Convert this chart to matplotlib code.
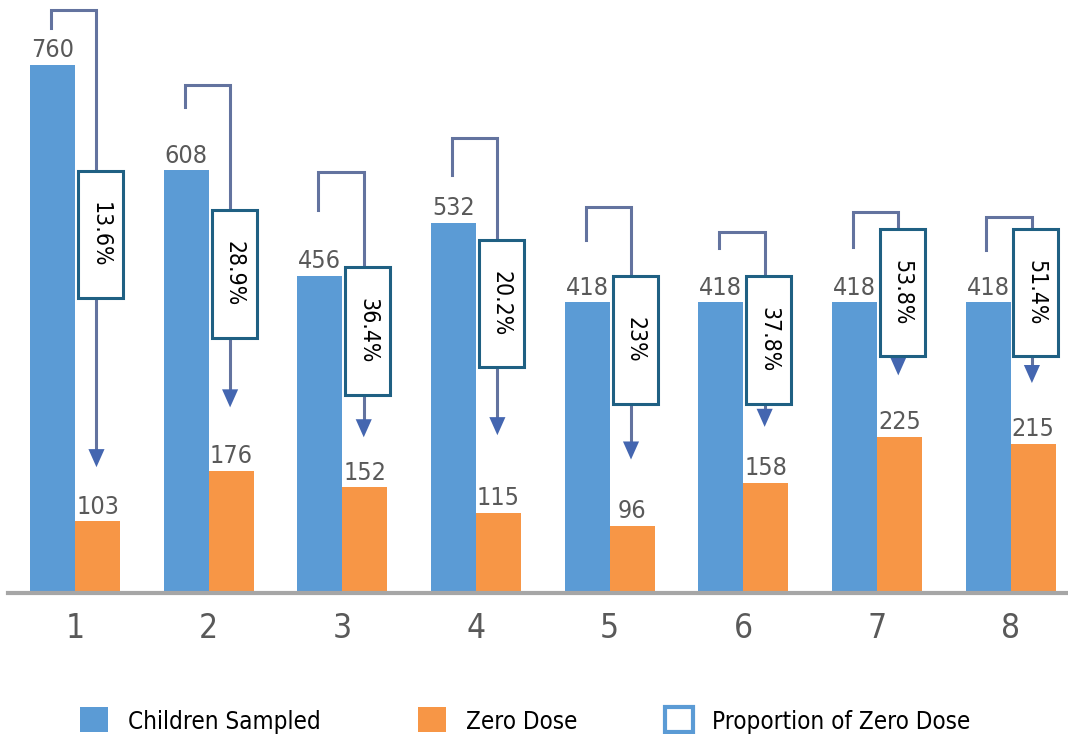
import numpy as np
import matplotlib.pyplot as plt
from matplotlib.patches import Rectangle

# Datos
grupos = [1, 2, 3, 4, 5, 6, 7, 8]
ninos_muestreados = [760, 608, 456, 532, 418, 418, 418, 418]
dosis_cero = [103, 176, 152, 115, 96, 158, 225, 215]
proporcion = ['13.6%', '28.9%', '36.4%', '20.2%', '23%', '37.8%', '53.8%', '51.4%']
series = ['Children Sampled', 'Zero Dose', 'Proportion of Zero Dose']

# Conectores (alturas en unidades del eje y)
conector_techo = [839, 731, 606, 655, 555, 519, 548, 541]
conector_pata = [813, 699, 551, 601, 508, 496, 498, 494]
conector_punta = [177, 263, 220, 223, 188, 235, 309, 298]
caja_centro = [516, 459, 377, 416, 364, 364, 432, 432]

AZUL = '#5b9bd5'
NARANJA = '#f79646'
GRIS = '#595959'

plt.rcParams['font.family'] = ['DejaVu Sans']
plt.rcParams['font.stretch'] = 'condensed'

fig = plt.figure(figsize=(10.68, 7.34), dpi=100)
ax = fig.add_axes([8 / 1068, (734 - 593) / 734, 1 - 8 / 1068, 593 / 734])

x = np.array(grupos, dtype=float)
ancho = 0.337

ax.bar(x - ancho / 2, ninos_muestreados, ancho, color=AZUL, zorder=2)
ax.bar(x + ancho / 2, dosis_cero, ancho, color=NARANJA, zorder=2)

for xi, v in zip(x, ninos_muestreados):
    ax.text(xi - ancho / 2, v + 4, str(v), ha='center', va='bottom', fontsize=18, color=GRIS)
for xi, v in zip(x, dosis_cero):
    ax.text(xi + ancho / 2, v + 4, str(v), ha='center', va='bottom', fontsize=18, color=GRIS)

# Conectores con flecha y caja de proporción
alto_caja = 183
for i, xi in enumerate(x):
    xl = xi - 0.18
    xr = xi + 0.16
    ax.plot([xl, xl, xr, xr], [conector_pata[i], conector_techo[i], conector_techo[i], conector_punta[i] + 20],
            color='#63739f', lw=2.2, zorder=3, solid_joinstyle='miter')
    ax.annotate('', xy=(xr, conector_punta[i]), xytext=(xr, conector_punta[i] + 26),
                arrowprops=dict(arrowstyle='-|>,head_width=0.29,head_length=0.65',
                                mutation_scale=20, color='#4466b0', lw=0), zorder=4)
    cx = xi + 0.19
    caja = Rectangle((cx - ancho / 2, caja_centro[i] - alto_caja / 2), ancho, alto_caja,
                     facecolor='white', edgecolor='#1f6083', lw=2.2, zorder=5)
    ax.add_patch(caja)
    ax.text(cx, caja_centro[i], proporcion[i], rotation=270, ha='center', va='center',
            fontsize=16.5, color='black', zorder=6)

ax.set_xlim(0.498, 8.43)
ax.set_ylim(0, 853)
ax.set_xticks(x)
ax.set_xticklabels([str(g) for g in grupos], fontsize=24, color=GRIS)
ax.tick_params(axis='x', length=0, pad=14)
ax.set_yticks([])
for lado in ['top', 'right', 'left']:
    ax.spines[lado].set_visible(False)
ax.spines['bottom'].set_color('#a6a6a6')
ax.spines['bottom'].set_linewidth(3)

# Leyenda
W, H = 1068, 734
cuadros = [(80, AZUL, AZUL), (418, NARANJA, NARANJA), (665, 'white', AZUL)]
textos_x = [128, 466, 712]
for (x0, fc, ec), tx, nombre in zip(cuadros, textos_x, series):
    lw = 3 if fc == 'white' else 0
    fig.patches.append(Rectangle((x0 / W, (H - 732) / H), 28 / W, 25 / H, facecolor=fc,
                                 edgecolor=ec, lw=lw, transform=fig.transFigure, figure=fig))
    fig.text(tx / W, (H - 729) / H, nombre, fontsize=17.4, color='black', va='baseline', ha='left')

fig.savefig('out.png', dpi=100)
